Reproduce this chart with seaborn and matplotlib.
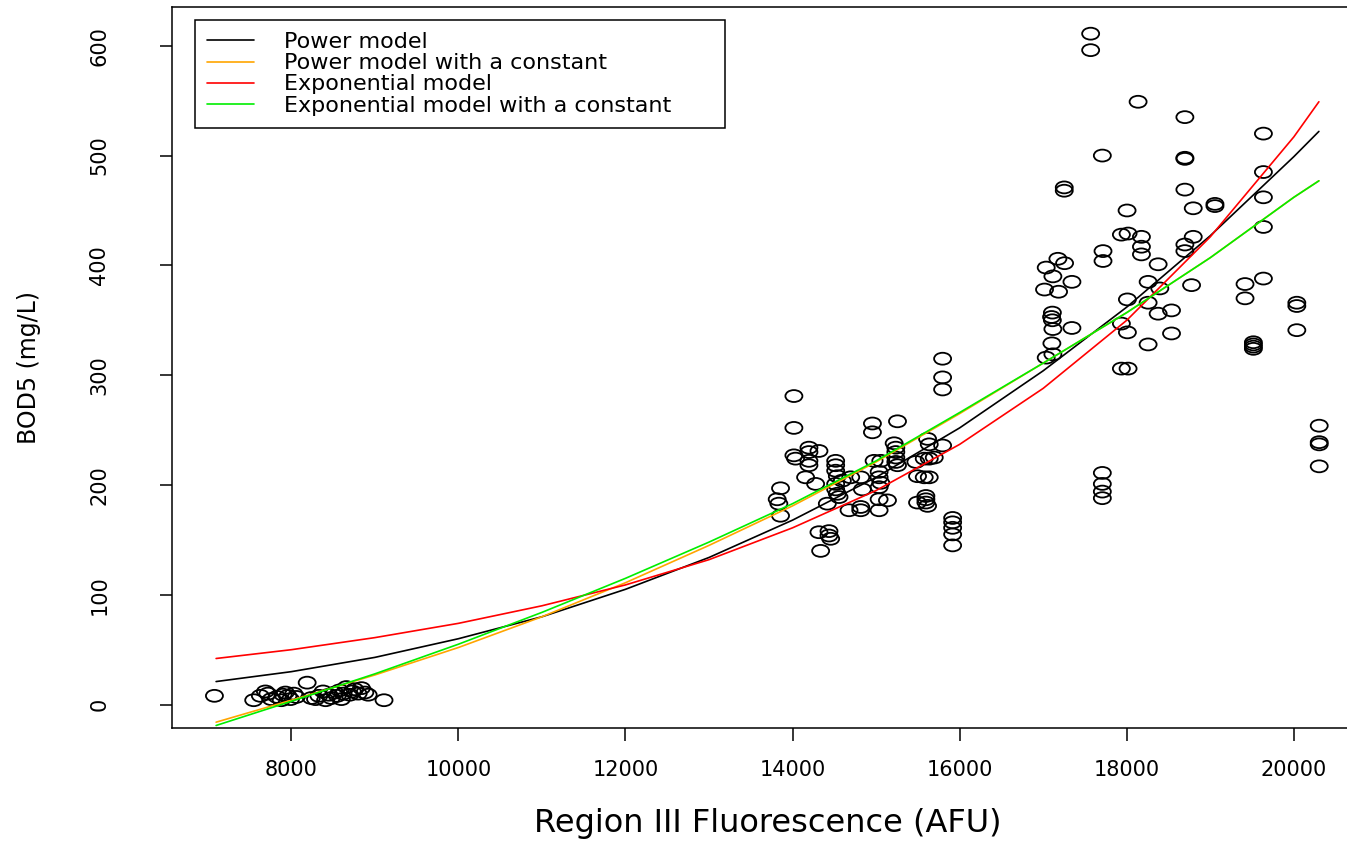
import numpy as np
import matplotlib
matplotlib.use("Agg")
import matplotlib.pyplot as plt
from matplotlib.path import Path
from matplotlib.transforms import Affine2D
import pandas as pd
import seaborn as sns

fluor_low = [7080, 7550, 7630, 7690, 7720, 7760, 7830, 7880, 7900, 7930, 7960, 7990,
             8030, 8060, 8190, 8240, 8290, 8330, 8380, 8410, 8450, 8480, 8520, 8550,
             8580, 8600, 8620, 8660, 8700, 8730, 8760, 8800, 8840, 8880, 8920, 9110]
bod_low = [8, 4, 8, 12, 10, 5, 7, 4, 9, 11, 8, 5,
           10, 7, 20, 6, 5, 8, 12, 4, 9, 6, 11, 8,
           13, 5, 10, 16, 9, 12, 14, 10, 15, 11, 9, 4]

fluor_mid = [14016, 14016, 14956, 14956, 15256, 15796, 15796, 15796, 14016, 14036, 14196, 14196,
             14316, 14196, 14196, 14156, 14276, 13856, 13816, 13836, 13856, 14316, 14436, 14436,
             14456, 14336, 14516, 14516, 14516, 14536, 14516, 14516, 14536, 14556, 14416, 14596,
             14696, 14676, 14816, 14816, 14816, 14836, 14976, 15056, 15036, 15036, 15056, 15036,
             15036, 15036, 15136, 15236, 15236, 15236, 15236, 15256, 15216, 15476, 15576, 15636,
             15696, 15496, 15576, 15636, 15616, 15636, 15796, 15496, 15596, 15596, 15596, 15616,
             15916, 15916, 15916, 15916, 15916]
bod_mid = [281, 252, 256, 248, 258, 315, 298, 287, 227, 224, 234, 230,
           231, 222, 218, 207, 201, 197, 187, 183, 172, 157, 158, 154,
           151, 140, 222, 218, 213, 208, 201, 196, 192, 189, 183, 204,
           207, 177, 180, 177, 207, 196, 222, 222, 212, 207, 202, 198,
           187, 177, 186, 234, 230, 225, 221, 218, 238, 221, 224, 224,
           225, 208, 207, 207, 242, 237, 236, 184, 190, 187, 184, 181,
           170, 166, 161, 155, 145]

fluor_high = [17036, 17176, 17256, 17116, 17016, 17184, 17344, 17716, 17716, 18176, 18176, 18696,
              18696, 18376, 18256, 18396, 18776, 18008, 18256, 17110, 17100, 17110, 17116, 17344,
              17104, 17036, 17116, 17936, 18008, 18376, 18536, 18536, 18256, 17936, 18016, 17568,
              17568, 18136, 18696, 19636, 17708, 18696, 18696, 19636, 18696, 18796, 19056, 19056,
              18004, 19636, 17936, 18016, 18176, 18796, 19636, 19416, 19636, 19416, 20036, 20036,
              20036, 19516, 19516, 19516, 19516, 20304, 20304, 20304, 20304, 17708, 17708, 17708,
              17708, 17252, 17252]
bod_high = [398, 406, 402, 390, 378, 376, 385, 413, 404, 417, 410, 419,
            413, 401, 385, 379, 382, 369, 366, 357, 353, 350, 342, 343,
            329, 316, 319, 347, 339, 356, 359, 338, 328, 306, 306, 611,
            596, 549, 535, 520, 500, 498, 497, 485, 469, 452, 456, 454,
            450, 462, 428, 429, 426, 426, 435, 383, 388, 370, 366, 363,
            341, 330, 328, 326, 324, 254, 239, 237, 217, 211, 201, 194,
            188, 471, 468]

# fitted model curves
curve_x = [7100, 8000, 9000, 10000, 11000, 12000, 13000, 14000, 15000, 16000, 17000, 18000, 19000, 20000, 20300]
power_y = [21, 30, 43, 60, 80, 105, 134, 168, 207, 252, 304, 362, 427, 499, 522]
power_const_y = [-16, 4, 27, 52, 80, 111, 145, 181, 221, 265, 311, 357, 407, 462, 477]
expo_y = [42, 50, 61, 74, 90, 109, 132, 161, 195, 237, 288, 350, 426, 517, 549]
expo_const_y = [-19, 3, 28, 55, 84, 115, 148, 183, 222, 266, 311, 357, 407, 462, 477]

model_names = ["Power model", "Power model with a constant",
               "Exponential model", "Exponential model with a constant"]
model_colors = ["black", "orange", "red", "#00ee00"]

points = pd.DataFrame({"fluor": fluor_low + fluor_mid + fluor_high,
                       "bod": bod_low + bod_mid + bod_high})
curves = pd.concat([pd.DataFrame({"fluor": curve_x, "bod": ys, "model": name})
                    for name, ys in zip(model_names,
                                        [power_y, power_const_y, expo_y, expo_const_y])])

sns.set_style("white")
plt.rcParams["font.family"] = ["DejaVu Sans"]
plt.rcParams["text.color"] = "black"
plt.rcParams["axes.labelcolor"] = "black"
plt.rcParams["xtick.color"] = "black"
plt.rcParams["ytick.color"] = "black"

fig = plt.figure(figsize=(13.47, 8.41), dpi=100)
ax = fig.add_axes([172 / 1347, 1 - 728 / 841, (1363 - 172) / 1347, (728 - 7) / 841])

# R style open circles (the picture is stretched, so they come out as ellipses)
oval = Path.unit_circle().transformed(Affine2D().scale(1, 0.7))
sns.scatterplot(data=points, x="fluor", y="bod", marker=oval, s=150,
                facecolor="none", edgecolor="black", linewidth=1.3, ax=ax, zorder=2)
ax.collections[-1].set_facecolor("none")

sns.lineplot(data=curves, x="fluor", y="bod", hue="model", hue_order=model_names,
             palette=model_colors, estimator=None, linewidth=1.2, ax=ax, zorder=3)

ax.set_xlim(6572, 20828)
ax.set_ylim(-21.3, 635.3)
ax.set_xticks(range(8000, 20001, 2000))
ax.set_yticks(range(0, 601, 100))
ax.tick_params(axis="both", direction="out", length=9, width=1.1,
               labelsize=15, bottom=True, left=True)
ax.tick_params(axis="x", pad=14)
ax.tick_params(axis="y", pad=36)
plt.setp(ax.get_yticklabels(), rotation=90, va="center")
for s in ax.spines.values():
    s.set_color("black")
    s.set_linewidth(1.1)

ax.set_xlabel("Region III Fluorescence (AFU)", fontsize=23, labelpad=20)
ax.set_ylabel("BOD5 (mg/L)", fontsize=17, labelpad=35)

handles, labels = ax.get_legend_handles_labels()
leg = ax.legend(handles, labels, loc="upper left",
                bbox_to_anchor=(23 / 1191, 1 - 13 / 721, 530 / 1191, 0.0),
                mode="expand", borderaxespad=0, fontsize=16, labelspacing=0.05,
                handlelength=2.1, handletextpad=1.35, fancybox=False, framealpha=1,
                edgecolor="black", borderpad=0.55)
leg.get_frame().set_linewidth(1.1)

fig.savefig("out.png", dpi=100)
